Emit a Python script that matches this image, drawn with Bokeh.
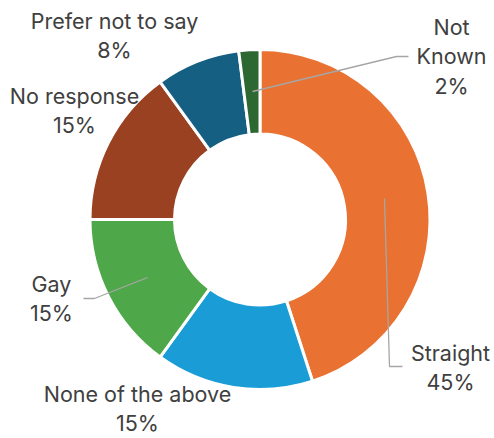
import math
from bokeh.plotting import figure
from bokeh.models import Range1d, ColumnDataSource
from bokeh.core.properties import value
from bokeh.embed import file_html
from bokeh.resources import INLINE

# ---- data ----
categories = ["Straight", "None of the above", "Gay", "No response", "Prefer not to say", "Not Known"]
percentages = [45, 15, 15, 15, 8, 2]
colors = ["#E97132", "#1A9DD6", "#4EA84A", "#9A4121", "#156082", "#2D6833"]
label_names = [["Straight"], ["None of the above"], ["Gay"], ["No response"], ["Prefer not to say"], ["Not", "Known"]]

# ---- layout (pixel coords, y measured from top) ----
W, H = 494, 438
CX, CY = 259.5, 219.0
R_IN, R_OUT = 85.5, 170.0
label_pos = [(450, 352), (137, 393), (51, 283), (74, 95), (114, 20), (451, 26)]
LINE_STEP = 29.5
leaders = [
    [(384, 198), (389, 366), (402, 366)],
    None,
    [(147, 277), (94, 298), (83, 298)],
    None,
    None,
    [(252, 91), (396, 56), (408, 56)],
]

p = figure(width=W, height=H, output_backend="svg", toolbar_location=None,
           x_range=Range1d(0, W), y_range=Range1d(0, H), min_border=0)
p.axis.visible = False
p.grid.visible = False
p.outline_line_color = None
p.background_fill_color = "white"

total = sum(percentages)
starts, ends = [], []
cum = 0.0
for v in percentages:
    starts.append(math.pi / 2 - 2 * math.pi * cum / total)
    cum += v
    ends.append(math.pi / 2 - 2 * math.pi * cum / total)

src = ColumnDataSource(dict(start=starts, end=ends, color=colors, cat=categories))
p.annular_wedge(x=CX, y=H - CY, inner_radius=R_IN, outer_radius=R_OUT,
                start_angle="start", end_angle="end", direction="clock",
                fill_color="color", line_color="white", line_width=3, source=src)

# leader lines
for ld in leaders:
    if ld:
        p.line([pt[0] for pt in ld], [H - pt[1] for pt in ld], line_color="#A6A6A6", line_width=1.3)

# labels
tx, ty, tt = [], [], []
for names, pct, (lx, ly) in zip(label_names, percentages, label_pos):
    lines = names + [f"{pct}%"]
    for i, t in enumerate(lines):
        tx.append(lx)
        ty.append(H - (ly + i * LINE_STEP))
        tt.append(t)
p.text(x=tx, y=ty, text=tt, text_align="center", text_baseline="middle",
       text_font=value("Inter"), text_font_size="21.5px", text_color="#404040")

open("out.html", "w").write(file_html(p, INLINE))
